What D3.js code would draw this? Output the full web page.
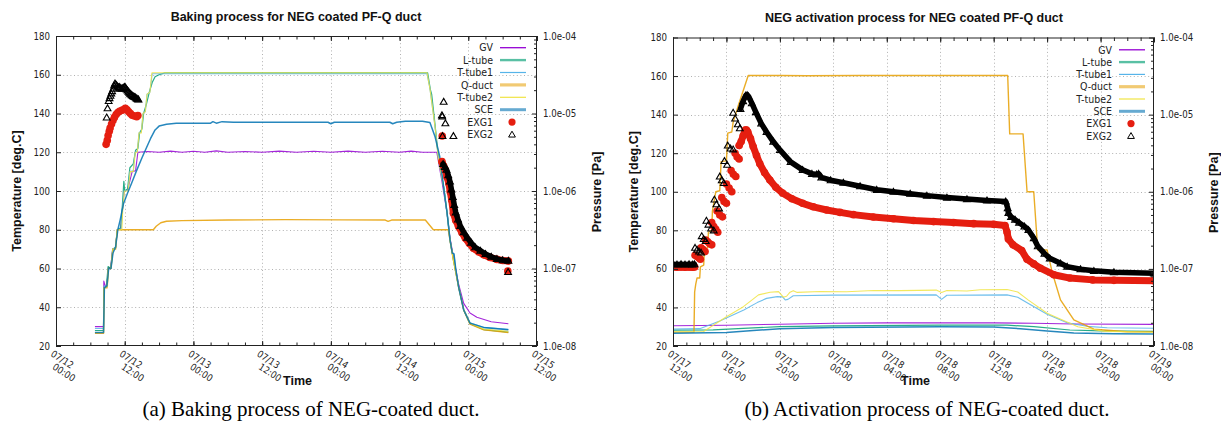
<!DOCTYPE html>
<html><head><meta charset="utf-8">
<script src="https://cdn.jsdelivr.net/npm/d3@7"></script>
<style>body{margin:0;background:#fff}svg{display:block}</style>
</head><body>
<svg id="c" width="1221" height="421"></svg>
<script>
// ---------------- DATA ----------------
const seriesNames=["GV","L-tube","T-tube1","Q-duct","T-tube2","SCE","EXG1","EXG2"];
const tempTicks=[20,40,60,80,100,120,140,160,180];
const pressTicks=[1e-8,1e-7,1e-6,1e-5,1e-4];
const pressTickLabels=["1.0e-08","1.0e-07","1.0e-06","1.0e-05","1.0e-04"];
const bakeTickHours=[0,12,24,36,48,60,72,84];
const bakeTickDates=["07/12","07/12","07/13","07/13","07/14","07/14","07/15","07/15"];
const bakeTickTimes=["00:00","12:00","00:00","12:00","00:00","12:00","00:00","12:00"];
const actTickHours=[0,4,8,12,16,20,24,28,32,36];
const actTickDates=["07/17","07/17","07/17","07/18","07/18","07/18","07/18","07/18","07/18","07/19"];
const actTickTimes=["12:00","16:00","20:00","00:00","04:00","08:00","12:00","16:00","20:00","00:00"];

// Baking (hours from 07/12 00:00, temperature deg.C)
const bakeGV=[[6.8,30],[8.3,30],[8.35,53.5],[8.6,51],[8.9,51],[9.15,60.5],[9.55,60.5],[9.9,70],[10.4,70.5],[10.7,80],[11.3,80.5],[11.9,100],[12.5,100.5],[13.3,110],[13.9,110.5],[14.3,120],[16,120.4],[18,120],[20,120.6],[22,120],[24,120.5],[26,120],[28,120.7],[30,120],[33,120.4],[36,120],[39,120.6],[42,120],[45,120.5],[48,120],[51,120.6],[54,120],[57,120.5],[60,120],[62,120.6],[64,120],[66.5,120],[67.4,105],[68.3,88.6],[68.8,76],[69.4,66],[70.3,52],[71.2,42],[72.3,37],[73.5,34.8],[76,32.5],[79,31.5]];
const bakeLtube=[[6.8,28],[8.3,28],[8.35,50],[8.8,51],[9.1,61],[9.55,60],[9.9,70],[10.4,71],[10.7,80],[11.3,81],[11.6,93],[11.85,105],[12.0,100],[12.5,101],[12.9,112],[13.5,114],[13.9,121],[14.3,122],[14.6,130],[15.0,132],[15.3,140],[15.8,145],[16.3,151],[16.8,156],[17.3,159],[18,160],[19,161],[64.9,161],[65.4,152],[65.6,150],[66.2,134],[66.8,117],[67.7,102],[68.3,88.6],[68.8,75],[69.4,64.4],[70.3,50.6],[71.2,38.6],[72.3,31.5],[74.7,28.5],[79,27.2]];
const bakeTtube1=[[6.8,29],[8.3,29],[8.4,51],[8.9,51],[9.15,60],[9.6,60],[9.95,70],[10.4,70.5],[10.7,80],[11.4,80.5],[11.6,90],[11.9,100],[12.6,100.5],[12.9,110],[13.5,110.5],[13.8,120],[14.2,120.5],[14.5,130],[14.9,130.5],[15.2,140],[15.6,141],[15.9,150],[16.4,151],[16.8,160.5],[64.8,160.5],[65.3,153],[66.2,133],[66.8,116],[67.7,102],[68.3,88.6],[68.8,74.7],[69.2,68],[69.5,67.5],[69.8,60],[70.3,51],[71.2,39],[72.3,32],[74.7,29.6],[79,28.6]];
const bakeQduct=[[6.8,26.5],[8.3,26.5],[8.4,50],[8.9,50],[9.15,60],[9.6,60],[9.95,70],[10.4,70],[10.7,80],[17,80],[17.5,81.8],[18.3,83.6],[19.3,84.4],[22,84.7],[30,85],[40,85.2],[50,85.1],[57.5,85],[58,84.3],[58.6,85],[64.5,85],[65.9,80],[68.5,80],[68.9,73],[69.4,64.4],[70.3,50.6],[71.2,38.6],[72.3,31.3],[74.7,28.3],[79,27]];
const bakeTtube2=[[6.8,27],[8.3,27],[8.4,50],[9.0,51],[9.15,60],[9.6,60],[9.95,70],[10.4,70],[10.7,80],[11.5,80],[11.65,90],[11.95,100],[12.6,100],[12.95,110],[13.5,110],[13.85,120],[14.2,120],[14.5,130],[14.9,130],[15.2,140],[15.6,141],[15.9,150],[16.4,151],[16.75,161],[64.8,161],[65.3,153],[66.2,133],[66.8,116],[67.7,102],[68.3,88.6],[68.8,74.7],[69.4,64.4],[70.3,50.6],[71.2,38.6],[72.3,31.7],[74.7,28.8],[79,27.6]];
const bakeSCE=[[6.8,27],[8.3,27],[8.45,50],[8.9,51],[9.2,60],[9.6,60],[9.95,68],[10.4,71],[10.8,80],[11.2,85],[11.8,93.6],[12.5,99],[13.2,104],[14,110],[15,117],[15.6,121],[16.5,127],[17.3,131.5],[18,133.5],[19.3,134.5],[21,135],[27,135],[27.4,135.8],[28,135],[29,135.8],[31,135.5],[47.5,135.5],[48,134.7],[48.6,135.5],[58.3,135.5],[58.8,134.7],[59.5,135.5],[61,136],[64,136],[65.3,135.3],[66.2,128],[67,118],[67.7,102],[68.3,88.6],[68.8,75],[69.2,68],[69.5,67.5],[69.8,60],[70.3,50.6],[71.2,38.6],[72.3,31.8],[74.7,29.6],[79,28.4]];
// Baking pressures (hours, Pa)
const bakeEXG1Pts=[[8.75,4.0e-6],[8.95,4.5e-6],[9.1,5.2e-6],[9.3,5.9e-6],[9.45,6.5e-6],[9.7,7.3e-6],[9.95,8.1e-6],[10.2,8.9e-6],[10.5,9.7e-6],[10.8,1.03e-5],[11.1,1.07e-5],[11.5,1.1e-5],[11.8,1.12e-5],[12.1,1.17e-5],[12.4,1.12e-5],[12.7,1.05e-5],[13.0,1.0e-5],[13.3,9.5e-6],[13.7,9.3e-6],[14.1,9.1e-6],[14.3,9.4e-6],[67.45,5.13e-6],[78.9,9.28e-8]];
const bakeEXG1Band=[[67.4,2.39e-6],[67.7,2.1e-6],[68.0,1.86e-6],[68.3,1.5e-6],[68.6,1.26e-6],[68.85,9.8e-7],[69.1,7.67e-7],[69.4,5.16e-7],[69.8,4.2e-7],[70.3,3.47e-7],[70.9,2.9e-7],[71.5,2.45e-7],[72.2,2.1e-7],[72.9,1.82e-7],[73.8,1.64e-7],[74.7,1.5e-7],[75.8,1.39e-7],[77,1.31e-7],[78,1.27e-7],[79,1.25e-7]];
const bakeEXG2Pts=[[8.85,8.9e-6],[9.0,1.17e-5],[9.2,1.45e-5],[9.35,1.58e-5],[9.5,1.7e-5],[9.65,1.82e-5],[9.8,1.95e-5],[10.0,2.1e-5],[10.15,2.3e-5],[10.3,2.45e-5],[10.45,2.38e-5],[10.6,2.3e-5],[10.75,2.22e-5],[10.9,2.18e-5],[11.05,2.2e-5],[11.2,2.15e-5],[11.35,2.1e-5],[11.5,2.1e-5],[11.65,2.12e-5],[11.8,2.15e-5],[11.95,2.2e-5],[12.05,2.2e-5],[12.2,2.12e-5],[12.35,2.05e-5],[12.5,1.98e-5],[12.65,1.92e-5],[12.8,1.86e-5],[12.95,1.8e-5],[13.1,1.76e-5],[13.25,1.73e-5],[13.4,1.69e-5],[13.55,1.66e-5],[13.7,1.64e-5],[13.85,1.62e-5],[14.0,1.58e-5],[14.15,1.55e-5],[14.3,1.53e-5],[14.4,1.52e-5],[67.7,1.42e-5],[67.4,9.55e-6],[67.45,9.2e-6],[68.0,7.5e-6],[67.5,5.13e-6],[69.4,5.13e-6],[78.95,9.02e-8]];
const bakeEXG2Band=[[67.6,2.24e-6],[67.9,2.05e-6],[68.2,1.88e-6],[68.5,1.6e-6],[68.8,1.33e-6],[69.05,1.05e-6],[69.3,8.41e-7],[69.55,6.6e-7],[69.8,5.31e-7],[70.2,4.3e-7],[70.6,3.55e-7],[71.2,2.95e-7],[71.8,2.51e-7],[72.5,2.15e-7],[73.2,1.88e-7],[74.1,1.7e-7],[75,1.54e-7],[76,1.42e-7],[77,1.33e-7],[78,1.28e-7],[79,1.26e-7]];

// Activation (hours from 07/17 12:00, temperature deg.C)
const actGV=[[0,30.5],[4,30.8],[8,31.3],[12,31.8],[16,32],[20,32],[24,32],[27,31.8],[30,31.4],[36,31.2]];
const actLtube=[[0,28.2],[3,28.4],[6,29.4],[8,30],[12,30.4],[20,30.8],[25,30.8],[27,30],[29.7,28.3],[32,27.8],[36,27.6]];
const actTtube1=[[0,28.8],[2.0,29],[3.5,33],[5.3,38.7],[6.3,42.5],[7.0,44.7],[7.8,45.6],[8.2,45.5],[8.4,43.9],[8.6,44.2],[9.0,46.1],[12,46.4],[19.7,46.5],[20.1,44.2],[20.5,46.3],[25,46.5],[25.8,45.3],[26.6,42],[28,36.5],[29.5,32],[31,30.2],[32.5,29.5],[36,29.2]];
const actQduct=[[0,27.2],[1.57,27.2],[1.62,48],[1.7,52],[1.8,55.3],[2.0,55.3],[2.05,61],[2.3,62],[2.35,70],[2.6,71],[2.65,79],[2.9,80],[2.95,90],[3.2,100],[3.5,100.5],[3.6,115.6],[4.0,116],[4.1,130.4],[4.4,131],[4.5,136],[4.9,145],[5.63,160.3],[8,160.3],[10,160.2],[14,160.3],[18,160.3],[22,160.3],[25.05,160.3],[25.2,130],[26.2,130],[26.5,100],[27.0,100],[27.3,69.8],[28.0,69.8],[28.4,57.7],[29,43.9],[30,33.5],[31.5,28.7],[34,27.4],[36,27.3]];
const actTtube2=[[0,27.4],[2.27,27.4],[4.0,35.2],[5.27,40.4],[6.4,46.5],[7.26,47.9],[7.9,48.2],[8.26,45.3],[8.5,45.8],[8.76,47.9],[9.0,48.7],[9.3,47.8],[11,48.3],[13,48.1],[15,48.8],[17,48.7],[19.7,49],[20.1,47.8],[20.5,48.8],[22,48.5],[23,49.2],[25,49.3],[25.8,48],[26.6,43.8],[28,37],[30.3,30],[32.3,27.6],[36,27.1]];
const actSCE=[[0,26.6],[4,27],[6,28],[8,29],[12,29.6],[20,30],[24,29.8],[26,29],[28,27.8],[30,26.7],[33,26.3],[36,26.2]];
// Activation pressures (hours, Pa)
const actEXG1Pts=[[1.65,1.50e-7],[1.8,1.45e-7],[1.95,1.38e-7],[2.05,1.33e-7],[2.1,1.88e-7],[2.25,1.78e-7],[2.4,1.68e-7],[2.45,2.37e-7],[2.6,2.24e-7],[2.75,2.11e-7],[2.9,2.05e-7],[2.9,3.98e-7],[3.05,3.55e-7],[3.2,3.25e-7],[3.35,2.99e-7],[3.3,5.62e-7],[3.5,5.01e-7],[3.7,4.73e-7],[3.65,8.41e-7],[3.82,7.50e-7],[4.0,7.08e-7],[4.0,1.26e-6],[4.2,1.12e-6],[4.4,1.0e-6],[4.35,1.88e-6],[4.52,1.68e-6],[4.7,1.58e-6],[4.65,3.16e-6],[4.8,2.82e-6],[4.95,2.66e-6]];
const actEXG1Band=[[0,1.06e-7],[0.3,1.05e-7],[0.6,1.06e-7],[0.9,1.05e-7],[1.2,1.06e-7],[1.45,1.05e-7],[1.62,1.06e-7],null,[4.95,3.98e-6],[5.1,4.47e-6],[5.25,5.31e-6],[5.4,6.31e-6],[5.5,6.31e-6],[5.6,5.96e-6],[5.8,4.9e-6],[6.0,3.85e-6],[6.25,2.95e-6],[6.5,2.3e-6],[6.85,1.78e-6],[7.25,1.42e-6],[7.7,1.14e-6],[8.2,9.6e-7],[8.9,8.1e-7],[9.7,7.08e-7],[10.5,6.38e-7],[11.5,5.8e-7],[12.5,5.4e-7],[13.5,5.05e-7],[15,4.7e-7],[16.5,4.47e-7],[18,4.23e-7],[19.5,4.1e-7],[21,3.98e-7],[22.5,3.86e-7],[24,3.78e-7],[24.85,3.64e-7],[25.0,3.0e-7],[25.1,2.44e-7],[25.45,2.05e-7],[26.1,1.73e-7],[26.5,1.33e-7],[27.0,1.16e-7],[27.5,1.02e-7],[28.5,8.4e-8],[29.7,7.6e-8],[31.4,7.2e-8],[33,7.1e-8],[36,7.04e-8]];
const actEXG2Pts=[[1.65,1.88e-7],[1.8,1.78e-7],[1.95,1.68e-7],[2.1,1.63e-7],[2.15,2.66e-7],[2.3,2.44e-7],[2.45,2.30e-7],[2.5,4.22e-7],[2.65,3.76e-7],[2.85,3.35e-7],[3.05,3.16e-7],[3.1,7.94e-7],[3.25,6.9e-7],[3.45,6.1e-7],[3.5,1.58e-6],[3.65,1.41e-6],[3.8,1.3e-6],[3.85,2.51e-6],[4.05,2.24e-6],[4.1,3.98e-6],[4.3,3.65e-6],[4.5,3.55e-6],[4.5,1.06e-5],[4.65,8.91e-6],[4.85,7.5e-6],[5.0,6.68e-6]];
const actEXG2Band=[[0,1.15e-7],[0.3,1.14e-7],[0.6,1.15e-7],[0.9,1.14e-7],[1.2,1.15e-7],[1.45,1.14e-7],[1.6,1.15e-7],null,[5.05,1.19e-5],[5.25,1.5e-5],[5.45,1.78e-5],[5.55,1.79e-5],[5.65,1.73e-5],[5.9,1.41e-5],[6.2,1.08e-5],[6.6,7.7e-6],[7.0,5.96e-6],[7.5,4.47e-6],[8.0,3.49e-6],[8.8,2.44e-6],[9.7,1.92e-6],[10.4,1.71e-6],[10.75,1.68e-6],[10.9,1.71e-6],[11.1,1.54e-6],[11.8,1.41e-6],[12.75,1.31e-6],[14,1.18e-6],[15.25,1.06e-6],[16.5,1.0e-6],[17.75,9.44e-7],[19,8.91e-7],[20.5,8.41e-7],[22,8.04e-7],[23.5,7.72e-7],[24.9,7.5e-7],[25.05,6.13e-7],[25.1,5.31e-7],[25.3,4.73e-7],[25.6,4.34e-7],[25.9,3.98e-7],[26.3,3.55e-7],[26.6,3.2e-7],[27.0,2.51e-7],[27.3,1.97e-7],[27.8,1.58e-7],[28.2,1.37e-7],[29,1.18e-7],[29.5,1.07e-7],[30.5,9.9e-8],[31.5,9.44e-8],[33,9.07e-8],[36,8.76e-8]];

// ---------------- STYLE ----------------
const colors={"GV":"#9400d3","L-tube":"#009e73","T-tube1":"#56b4e9","Q-duct":"#e69f00","T-tube2":"#f0e442","SCE":"#0072b2","EXG1":"#e51e10","EXG2":"#000000"};
const plotWidth={"GV":1.1,"L-tube":1.2,"T-tube1":1.1,"Q-duct":1.4,"T-tube2":1.1,"SCE":1.5};
const legWidth={"GV":1.3,"L-tube":2.4,"T-tube1":1.2,"Q-duct":3.2,"T-tube2":1.2,"SCE":3.0};
const legOpacity={"GV":1,"L-tube":0.65,"T-tube1":1,"Q-duct":0.55,"T-tube2":1,"SCE":0.6};
const tickFont="'DejaVu Sans Condensed','DejaVu Sans',sans-serif";
const boldFont="'Liberation Sans',Arial,sans-serif";

const svg=d3.select("#c");
svg.append("rect").attr("width",1221).attr("height",421).attr("fill","#fff");

function panel(o){
  const g=svg.append("g");
  const x=d3.scaleLinear().domain([o.tickHours[0],o.tickHours[o.tickHours.length-1]]).range([o.left,o.right]);
  const y=d3.scaleLinear().domain([20,180]).range([o.bottom,o.top]);
  const yp=d3.scaleLog().domain([1e-8,1e-4]).range([o.bottom,o.top]);
  const cid="clip"+o.id;
  svg.append("clipPath").attr("id",cid).append("rect").attr("x",o.left).attr("y",o.top).attr("width",o.right-o.left).attr("height",o.bottom-o.top);

  // grid
  const grid=g.append("g").attr("stroke","#a8a8a8").attr("stroke-width",0.9).attr("stroke-dasharray","1,2.6");
  grid.selectAll(".gx").data(o.tickHours.slice(1,-1)).join("line")
    .attr("x1",d=>Math.round(x(d))+0.5).attr("x2",d=>Math.round(x(d))+0.5).attr("y1",o.top).attr("y2",o.bottom);
  grid.selectAll(".gy").data(tempTicks.slice(1,-1)).join("line")
    .attr("y1",d=>Math.round(y(d))+0.5).attr("y2",d=>Math.round(y(d))+0.5).attr("x1",o.left).attr("x2",o.right);

  const plot=g.append("g").attr("clip-path","url(#"+cid+")");
  const line=d3.line().x(d=>x(d[0])).y(d=>y(d[1]));
  o.lines.forEach((arr,i)=>{
    const n=seriesNames[i];
    plot.append("path").datum(arr).attr("d",line).attr("fill","none")
      .attr("stroke",colors[n]).attr("stroke-width",plotWidth[n]).attr("stroke-opacity",0.85).attr("stroke-linejoin","round");
  });
  const pline=d3.line().defined(d=>d!==null).x(d=>x(d[0])).y(d=>yp(d[1])).curve(d3.curveLinear);
  const tri=d3.symbol().type(d3.symbolTriangle).size(20)();
  // EXG1
  plot.append("path").datum(o.exg1Band).attr("d",pline).attr("fill","none").attr("stroke",colors.EXG1)
    .attr("stroke-width",7).attr("stroke-linecap","round").attr("stroke-linejoin","round");
  plot.append("g").selectAll("circle").data(o.exg1Pts.concat(o.exg1Band.filter(d=>d))).join("circle")
    .attr("cx",d=>x(d[0])).attr("cy",d=>yp(d[1])).attr("r",3.8).attr("fill",colors.EXG1);
  // EXG2
  plot.append("path").datum(o.exg2Band).attr("d",pline).attr("fill","none").attr("stroke",colors.EXG2)
    .attr("stroke-width",5.5).attr("stroke-linecap","round").attr("stroke-linejoin","round");
  plot.append("g").selectAll("path").data(o.exg2Pts.concat(o.exg2Band.filter(d=>d))).join("path")
    .attr("d",tri).attr("transform",d=>`translate(${x(d[0])},${yp(d[1])+0.6})`)
    .attr("fill","none").attr("stroke",colors.EXG2).attr("stroke-width",1.1);

  // border
  g.append("rect").attr("x",o.left+0.5).attr("y",o.top+0.5).attr("width",o.right-o.left-1).attr("height",o.bottom-o.top-1)
    .attr("fill","none").attr("stroke","#222").attr("stroke-width",1);

  const minorX=d3.range(o.tickHours[0],o.tickHours[o.tickHours.length-1]+0.001,o.minorStep);
  const styleAxis=s=>{s.select(".domain").remove();s.selectAll("line").attr("stroke","#222");
    s.selectAll("text").attr("font-family",tickFont).attr("font-size",9.6).attr("fill","#222");};
  g.append("g").attr("transform",`translate(0,${o.bottom})`).call(d3.axisBottom(x).tickValues(minorX).tickSize(-3.5).tickFormat("")).call(styleAxis);
  g.append("g").attr("transform",`translate(0,${o.bottom})`).call(d3.axisBottom(x).tickValues(o.tickHours).tickSize(-5).tickFormat("")).call(styleAxis);
  g.append("g").attr("transform",`translate(0,${o.top})`).call(d3.axisTop(x).tickValues(minorX).tickSize(-3.5).tickFormat("")).call(styleAxis);
  g.append("g").attr("transform",`translate(0,${o.top})`).call(d3.axisTop(x).tickValues(o.tickHours).tickSize(-5).tickFormat("")).call(styleAxis);
  g.append("g").attr("transform",`translate(${o.left},0)`).call(d3.axisLeft(y).tickValues(tempTicks).tickSize(-5).tickPadding(6)).call(styleAxis);
  const minorP=[];
  for(let e=-8;e<-4;e++){for(let m=2;m<=9;m++){minorP.push(m*Math.pow(10,e));}}
  g.append("g").attr("transform",`translate(${o.right},0)`).call(d3.axisRight(yp).tickValues(minorP).tickSize(-3).tickFormat("")).call(styleAxis);
  g.append("g").attr("transform",`translate(${o.right},0)`).call(d3.axisRight(yp).tickValues(pressTicks).tickSize(-5).tickPadding(6).tickFormat((d,i)=>pressTickLabels[i])).call(styleAxis);

  // rotated x tick labels
  const xl=g.append("g").attr("font-family",tickFont).attr("font-size",9.6).attr("fill","#222");
  o.tickHours.forEach((h,i)=>{
    xl.append("text").attr("transform",`translate(${x(h)-6},${o.bottom+9.5}) rotate(33)`).text(o.tickDates[i]);
    xl.append("text").attr("transform",`translate(${x(h)-4.3},${o.bottom+22.5}) rotate(33)`).text(o.tickTimes[i]);
  });

  // titles and labels
  g.append("text").attr("x",o.titleX).attr("y",o.titleY).attr("text-anchor","middle").attr("font-family",boldFont)
    .attr("font-weight","bold").attr("font-size",12.5).attr("fill","#111").text(o.title);
  g.append("text").attr("transform",`translate(${o.left-35},${(o.top+o.bottom)/2}) rotate(-90)`).attr("text-anchor","middle")
    .attr("font-family",boldFont).attr("font-weight","bold").attr("font-size",12.5).attr("fill","#111").text("Temperature [deg.C]");
  g.append("text").attr("transform",`translate(${o.right+64},${(o.top+o.bottom)/2+1}) rotate(-90)`).attr("text-anchor","middle")
    .attr("font-family",boldFont).attr("font-weight","bold").attr("font-size",12.5).attr("fill","#111").text("Pressure [Pa]");
  g.append("text").attr("x",o.timeX).attr("y",385).attr("font-family",boldFont).attr("font-weight","bold")
    .attr("font-size",12.5).attr("fill","#111").text("Time");
  g.append("text").attr("x",o.capX).attr("y",416).attr("text-anchor","middle").attr("font-family","'Liberation Serif','Times New Roman',serif")
    .attr("font-size",21).attr("fill","#000").text(o.caption);

  // legend
  const lg=g.append("g");
  seriesNames.forEach((n,i)=>{
    const yy=o.legY+i*o.legStep;
    lg.append("text").attr("x",o.legX).attr("y",yy).attr("dy","0.36em").attr("text-anchor","end")
      .attr("font-family",tickFont).attr("font-size",10.5).attr("fill","#222").text(n);
    if(i<6){
      lg.append("line").attr("x1",o.legX+7).attr("x2",o.legX+33).attr("y1",yy).attr("y2",yy)
        .attr("stroke",colors[n]).attr("stroke-width",legWidth[n]).attr("stroke-opacity",legOpacity[n]);
    } else if(n==="EXG1"){
      lg.append("circle").attr("cx",o.legX+19).attr("cy",yy).attr("r",3.6).attr("fill",colors.EXG1);
    } else {
      lg.append("path").attr("d",tri).attr("transform",`translate(${o.legX+19},${yy+0.6})`).attr("fill","none").attr("stroke","#000").attr("stroke-width",1);
    }
  });
}

panel({id:"a",left:56,right:537,top:36,bottom:346,tickHours:bakeTickHours,tickDates:bakeTickDates,tickTimes:bakeTickTimes,minorStep:3,
  lines:[bakeGV,bakeLtube,bakeTtube1,bakeQduct,bakeTtube2,bakeSCE],
  exg1Pts:bakeEXG1Pts,exg1Band:bakeEXG1Band,exg2Pts:bakeEXG2Pts,exg2Band:bakeEXG2Band,
  title:"Baking process for NEG coated PF-Q duct",titleX:296,titleY:20.5,timeX:283,capX:311,
  caption:"(a) Baking process of NEG-coated duct.",legX:493,legY:47.7,legStep:12.4});
panel({id:"b",left:673,right:1154,top:37.5,bottom:346,tickHours:actTickHours,tickDates:actTickDates,tickTimes:actTickTimes,minorStep:1,
  lines:[actGV,actLtube,actTtube1,actQduct,actTtube2,actSCE],
  exg1Pts:actEXG1Pts,exg1Band:actEXG1Band,exg2Pts:actEXG2Pts,exg2Band:actEXG2Band,
  title:"NEG activation process for NEG coated PF-Q duct",titleX:914,titleY:21.5,timeX:901,capX:927,
  caption:"(b) Activation process of NEG-coated duct.",legX:1112,legY:49.8,legStep:12.3});
</script>
</body></html>
